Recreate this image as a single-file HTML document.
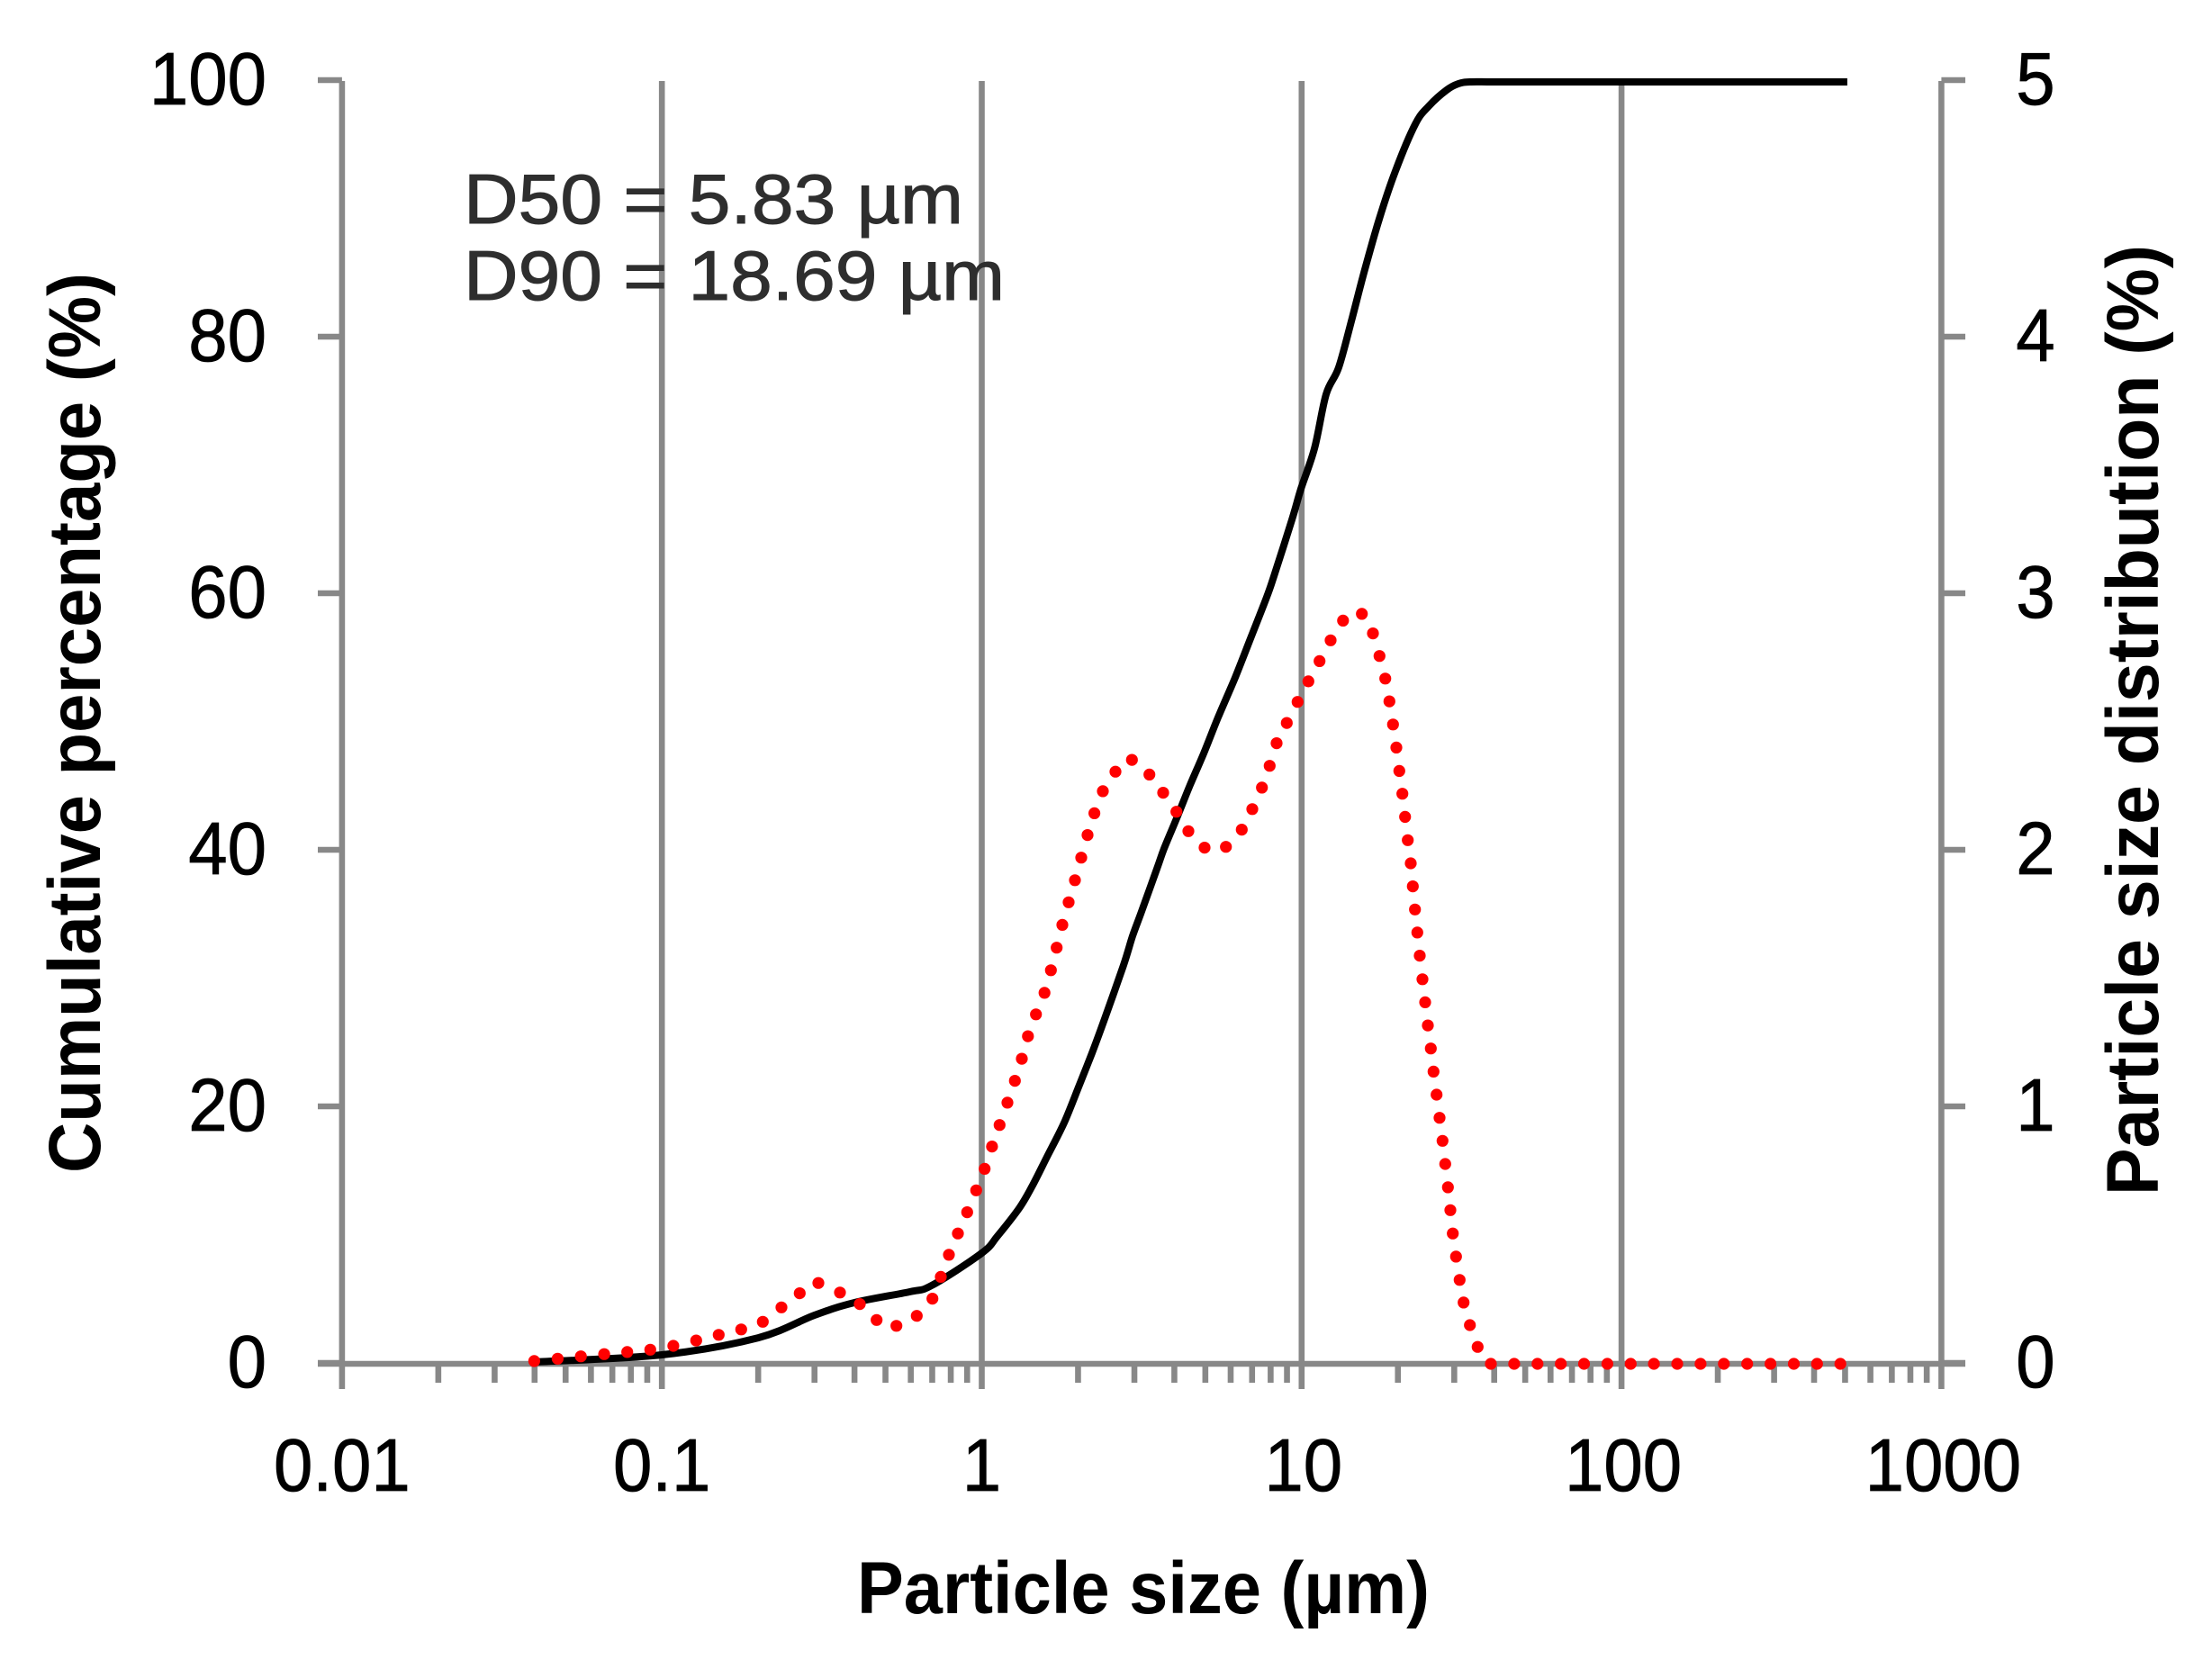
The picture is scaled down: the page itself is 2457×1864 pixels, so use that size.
<!DOCTYPE html>
<html lang="en">
<head>
<meta charset="utf-8">
<title>Particle size distribution</title>
<style>
html,body{margin:0;padding:0;background:#fff;}
svg{display:block;}
text{font-family:"Liberation Sans",sans-serif;}
</style>
</head>
<body>
<svg id="chart" xmlns="http://www.w3.org/2000/svg" width="2457" height="1864" viewBox="0 0 2457 1864">
  <rect x="0" y="0" width="2457" height="1864" fill="#ffffff"/>
  <g id="axes"></g>
  <g id="series"></g>
  <g id="labels"></g>
  <text x="515" y="248" font-size="78" fill="#2e2e2e" stroke="#2e2e2e" stroke-width="1" textLength="555" lengthAdjust="spacingAndGlyphs">D50 = 5.83 µm</text>
  <text x="515" y="333" font-size="78" fill="#2e2e2e" stroke="#2e2e2e" stroke-width="1" textLength="601" lengthAdjust="spacingAndGlyphs">D90 = 18.69 µm</text>
  <text transform="translate(111,803) rotate(-90)" text-anchor="middle" font-size="82" font-weight="bold" fill="#000" textLength="1000" lengthAdjust="spacingAndGlyphs">Cumulative percentage (%)</text>
  <text transform="translate(2397,800) rotate(-90)" text-anchor="middle" font-size="82" font-weight="bold" fill="#000" textLength="1056" lengthAdjust="spacingAndGlyphs">Particle size distribution (%)</text>
  <text x="1270" y="1792" text-anchor="middle" font-size="82" font-weight="bold" fill="#000" textLength="636" lengthAdjust="spacingAndGlyphs">Particle size (µm)</text>
</svg>
<script>
// Axis tick labels
const xTickValues = [0.01, 0.1, 1, 10, 100, 1000];
const xTickLabels = ["0.01", "0.1", "1", "10", "100", "1000"];
const minorMultiples = [2, 3, 4, 5, 6, 7, 8, 9];
const leftTicks = [0, 20, 40, 60, 80, 100];
const rightTicks = [0, 1, 2, 3, 4, 5];

// Cumulative percentage series (solid black)
const cumulativeSizes = [0.04, 0.1, 0.2, 0.3, 0.4, 0.593, 0.698, 1, 1.12, 1.31, 1.44, 1.6, 1.81, 2.03, 2.21, 2.42, 2.77, 2.96, 3.14, 3.53, 3.72, 4.09, 4.48, 4.94, 5.48, 6.19, 6.96, 7.78, 8.19, 9.33, 9.95, 10.97, 11.93, 13.06, 14.39, 15.66, 17.49, 19.64, 22.65, 24.97, 28.4, 30.9, 33.6, 40, 60, 100, 200, 508];
const cumulativePercent = [0.14, 0.7, 2.03, 3.79, 4.77, 5.61, 6.11, 8.63, 9.96, 12.14, 13.89, 16.14, 18.81, 21.89, 24.21, 26.88, 31.02, 33.33, 35.09, 38.6, 40.2, 42.67, 45.12, 47.58, 50.39, 53.47, 56.7, 59.79, 61.4, 65.82, 68.2, 71.37, 75.58, 77.68, 81.54, 85.05, 89.26, 92.98, 96.63, 98.04, 99.3, 99.79, 99.93, 99.93, 99.93, 99.93, 99.93, 99.93];

// Particle size distribution series (dotted red)
const distributionSizes = [0.0399, 0.0472, 0.0558, 0.066, 0.0779, 0.092, 0.1086, 0.128, 0.1505, 0.177, 0.2068, 0.2365, 0.2697, 0.3084, 0.3603, 0.4155, 0.469, 0.541, 0.6263, 0.7011, 0.7447, 0.7894, 0.8421, 0.9003, 0.9607, 1.021, 1.077, 1.137, 1.203, 1.269, 1.334, 1.394, 1.477, 1.571, 1.645, 1.715, 1.786, 1.869, 1.956, 2.046, 2.142, 2.25, 2.391, 2.618, 2.948, 3.343, 3.69, 4.059, 4.426, 4.973, 5.799, 6.499, 7.012, 7.515, 7.945, 8.351, 8.985, 9.712, 10.5, 11.38, 12.32, 13.47, 15.43, 16.71, 17.52, 18.26, 18.81, 19.31, 19.78, 20.2, 20.65, 21.06, 21.47, 21.93, 22.26, 22.61, 23, 23.4, 23.86, 24.33, 24.81, 25.34, 25.84, 26.42, 26.99, 27.58, 28.11, 28.66, 29.17, 29.68, 30.39, 31.18, 32.09, 33.57, 35.5, 39.05, 46.18, 54.62, 64.59, 76.38, 90.33, 106.8, 126.3, 149.4, 176.7, 209, 247.1, 292.3, 345.6, 408.7, 483.4];
const distributionPercent = [0.011, 0.02, 0.029, 0.038, 0.046, 0.055, 0.07, 0.091, 0.113, 0.134, 0.164, 0.22, 0.275, 0.315, 0.278, 0.233, 0.171, 0.148, 0.187, 0.254, 0.339, 0.425, 0.508, 0.591, 0.676, 0.76, 0.847, 0.931, 1.018, 1.103, 1.189, 1.277, 1.362, 1.446, 1.534, 1.622, 1.711, 1.799, 1.885, 1.973, 2.061, 2.146, 2.232, 2.308, 2.354, 2.297, 2.226, 2.152, 2.076, 2.012, 2.015, 2.082, 2.162, 2.246, 2.331, 2.419, 2.498, 2.58, 2.66, 2.739, 2.82, 2.897, 2.923, 2.847, 2.759, 2.671, 2.582, 2.492, 2.402, 2.311, 2.222, 2.132, 2.041, 1.951, 1.861, 1.771, 1.681, 1.591, 1.499, 1.409, 1.319, 1.229, 1.139, 1.049, 0.959, 0.869, 0.779, 0.688, 0.599, 0.508, 0.418, 0.327, 0.239, 0.151, 0.066, 0, 0, 0, 0, 0, 0, 0, 0, 0, 0, 0, 0, 0, 0, 0, 0];

const NS = "http://www.w3.org/2000/svg";
const AXIS_COLOR = "#888888";
const xScale = function (size) { return 1090.5 + 355.3 * Math.log10(size); };
const yLeft = function (value) { return 1515 - 14.25 * value; };
const yRight = function (value) { return 1515 - 285 * value; };

const axes = document.getElementById("axes");
const series = document.getElementById("series");
const labels = document.getElementById("labels");

function line(parent, x1, y1, x2, y2) {
  const el = document.createElementNS(NS, "line");
  el.setAttribute("x1", x1);
  el.setAttribute("y1", y1);
  el.setAttribute("x2", x2);
  el.setAttribute("y2", y2);
  el.setAttribute("stroke", AXIS_COLOR);
  el.setAttribute("stroke-width", 6.6);
  parent.appendChild(el);
  return el;
}

function label(x, y, anchor, content) {
  const el = document.createElementNS(NS, "text");
  el.setAttribute("x", x);
  el.setAttribute("y", y);
  el.setAttribute("text-anchor", anchor);
  el.setAttribute("font-size", 78);
  el.setAttribute("fill", "#000000");
  el.textContent = content;
  labels.appendChild(el);
  const naturalWidth = el.getComputedTextLength();
  el.setAttribute("font-size", 83);
  el.setAttribute("stroke", "#000000");
  el.setAttribute("stroke-width", 0.8);
  el.setAttribute("textLength", naturalWidth.toFixed(1));
  el.setAttribute("lengthAdjust", "spacingAndGlyphs");
  return el;
}

// Vertical gridlines and major x ticks
xTickValues.forEach(function (value, i) {
  const grid = line(axes, xScale(value), yLeft(100), xScale(value), 1543);
  
  
  const text = label(xScale(value) + (i > 2 ? 2 : 0), 1656, "middle", xTickLabels[i]);
  
  
});

// Minor x ticks
xTickValues.slice(0, -1).forEach(function (decade) {
  minorMultiples.forEach(function (m) {
    const tick = line(axes, xScale(decade * m), yLeft(0), xScale(decade * m), 1536);
    
    
  });
});

// Horizontal x-axis line
const xAxisLine = line(axes, 353, yLeft(0), 2183, yLeft(0));



// Left axis ticks and labels
leftTicks.forEach(function (value) {
  const tick = line(axes, 353, yLeft(value) - 1, xScale(0.01), yLeft(value) - 1);
  
  
  const text = label(296, yLeft(value) + 26, "end", String(value));
  
  
});

// Right axis ticks and labels
rightTicks.forEach(function (value) {
  const tick = line(axes, xScale(1000), yRight(value) - 1, 2183, yRight(value) - 1);
  
  
  const text = label(2261, yRight(value) + 26, "middle", String(value));
  
  
});

// Cumulative curve, smoothed through the read points
const cumulativePoints = cumulativeSizes.map(function (s, i) {
  return [xScale(s), yLeft(cumulativePercent[i])];
});
let cumulativePath = "M" + cumulativePoints[0][0].toFixed(1) + " " + cumulativePoints[0][1].toFixed(1);
for (let i = 0; i < cumulativePoints.length - 1; i++) {
  const p0 = cumulativePoints[Math.max(i - 1, 0)];
  const p1 = cumulativePoints[i];
  const p2 = cumulativePoints[i + 1];
  const p3 = cumulativePoints[Math.min(i + 2, cumulativePoints.length - 1)];
  const c1x = p1[0] + (p2[0] - p0[0]) / 6;
  const c1y = p1[1] + (p2[1] - p0[1]) / 6;
  const c2x = p2[0] - (p3[0] - p1[0]) / 6;
  const c2y = p2[1] - (p3[1] - p1[1]) / 6;
  cumulativePath += "C" + c1x.toFixed(1) + " " + c1y.toFixed(1) + " " + c2x.toFixed(1) + " " + c2y.toFixed(1) + " " + p2[0].toFixed(1) + " " + p2[1].toFixed(1);
}
const cumulativeLine = document.createElementNS(NS, "path");


cumulativeLine.setAttribute("d", cumulativePath);
cumulativeLine.setAttribute("fill", "none");
cumulativeLine.setAttribute("stroke", "#000000");
cumulativeLine.setAttribute("stroke-width", 8);
cumulativeLine.setAttribute("stroke-linejoin", "round");
series.appendChild(cumulativeLine);

// Distribution curve: one round dot per read point
const distributionGroup = document.createElementNS(NS, "g");


series.appendChild(distributionGroup);
distributionSizes.forEach(function (s, i) {
  const dot = document.createElementNS(NS, "circle");
  
  
  dot.setAttribute("cx", xScale(s).toFixed(1));
  dot.setAttribute("cy", yRight(distributionPercent[i]).toFixed(1));
  dot.setAttribute("r", 6.6);
  dot.setAttribute("fill", "#ff0000");
  distributionGroup.appendChild(dot);
});
</script>
</body>
</html>
